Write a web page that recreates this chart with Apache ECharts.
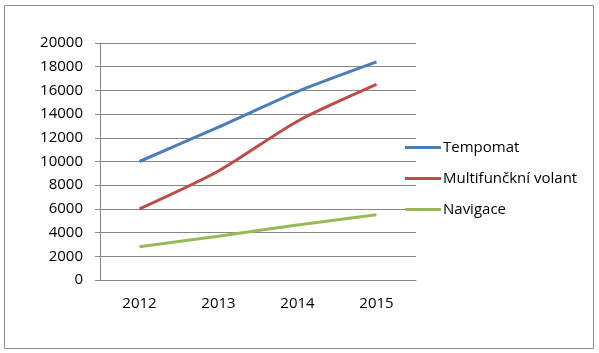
<!DOCTYPE html>
<html><head><meta charset="utf-8">
<script src="https://cdn.jsdelivr.net/npm/echarts@6/dist/echarts.min.js"></script>
<style>html,body{margin:0;padding:0;background:#fff}#c{width:599px;height:353px}</style>
</head><body><div id="c"></div>
<script>
var categories = ['2012', '2013', '2014', '2015'];
var tempomat = [10000, 12900, 15900, 18400];
var volant = [6000, 9200, 13400, 16500];
var navigace = [2800, 3700, 4650, 5500];
var seriesNames = ['Tempomat', 'Multifunčkní volant', 'Navigace'];
var yTicks = {min: 0, max: 20000, interval: 2000};

var font = 'Open Sans';
var chart = echarts.init(document.getElementById('c'), null, {renderer: 'canvas'});
function mk(name, data, color) {
  return {name: name, type: 'line', data: data, smooth: 0.25, showSymbol: false, symbol: 'none',
    lineStyle: {width: 3, color: color}, itemStyle: {color: color}};
}
chart.setOption({
  animation: false,
  backgroundColor: '#fff',
  graphic: [{type: 'rect', shape: {x: 4.5, y: 5.5, width: 589, height: 343}, style: {fill: 'none', stroke: '#8c8c8c', lineWidth: 1}}],
  grid: {left: 100, top: 43, width: 316, height: 237, containLabel: false},
  legend: {orient: 'vertical', left: 400, top: 135, itemWidth: 36, itemHeight: 3, itemGap: 16, icon: 'rect',
    textStyle: {fontFamily: font, fontSize: 15, color: '#000', padding: [0, 0, 0, -3]},
    data: seriesNames},
  xAxis: {type: 'category', data: categories, boundaryGap: true,
    axisLine: {lineStyle: {color: '#868686'}}, axisTick: {length: 6, lineStyle: {color: '#868686'}},
    axisLabel: {fontFamily: font, fontSize: 15, color: '#000', margin: 16}},
  yAxis: {type: 'value', min: yTicks.min, max: yTicks.max, interval: yTicks.interval,
    axisLine: {show: true, lineStyle: {color: '#868686'}}, axisTick: {show: true, length: 5, lineStyle: {color: '#868686'}},
    splitLine: {lineStyle: {color: '#868686'}},
    axisLabel: {fontFamily: font, fontSize: 15, color: '#000', margin: 17, formatter: function (v) { return String(v); }}},
  series: [mk(seriesNames[0], tempomat, '#4a7ebb'), mk(seriesNames[1], volant, '#be4b48'), mk(seriesNames[2], navigace, '#98b954')]
});
</script></body></html>
